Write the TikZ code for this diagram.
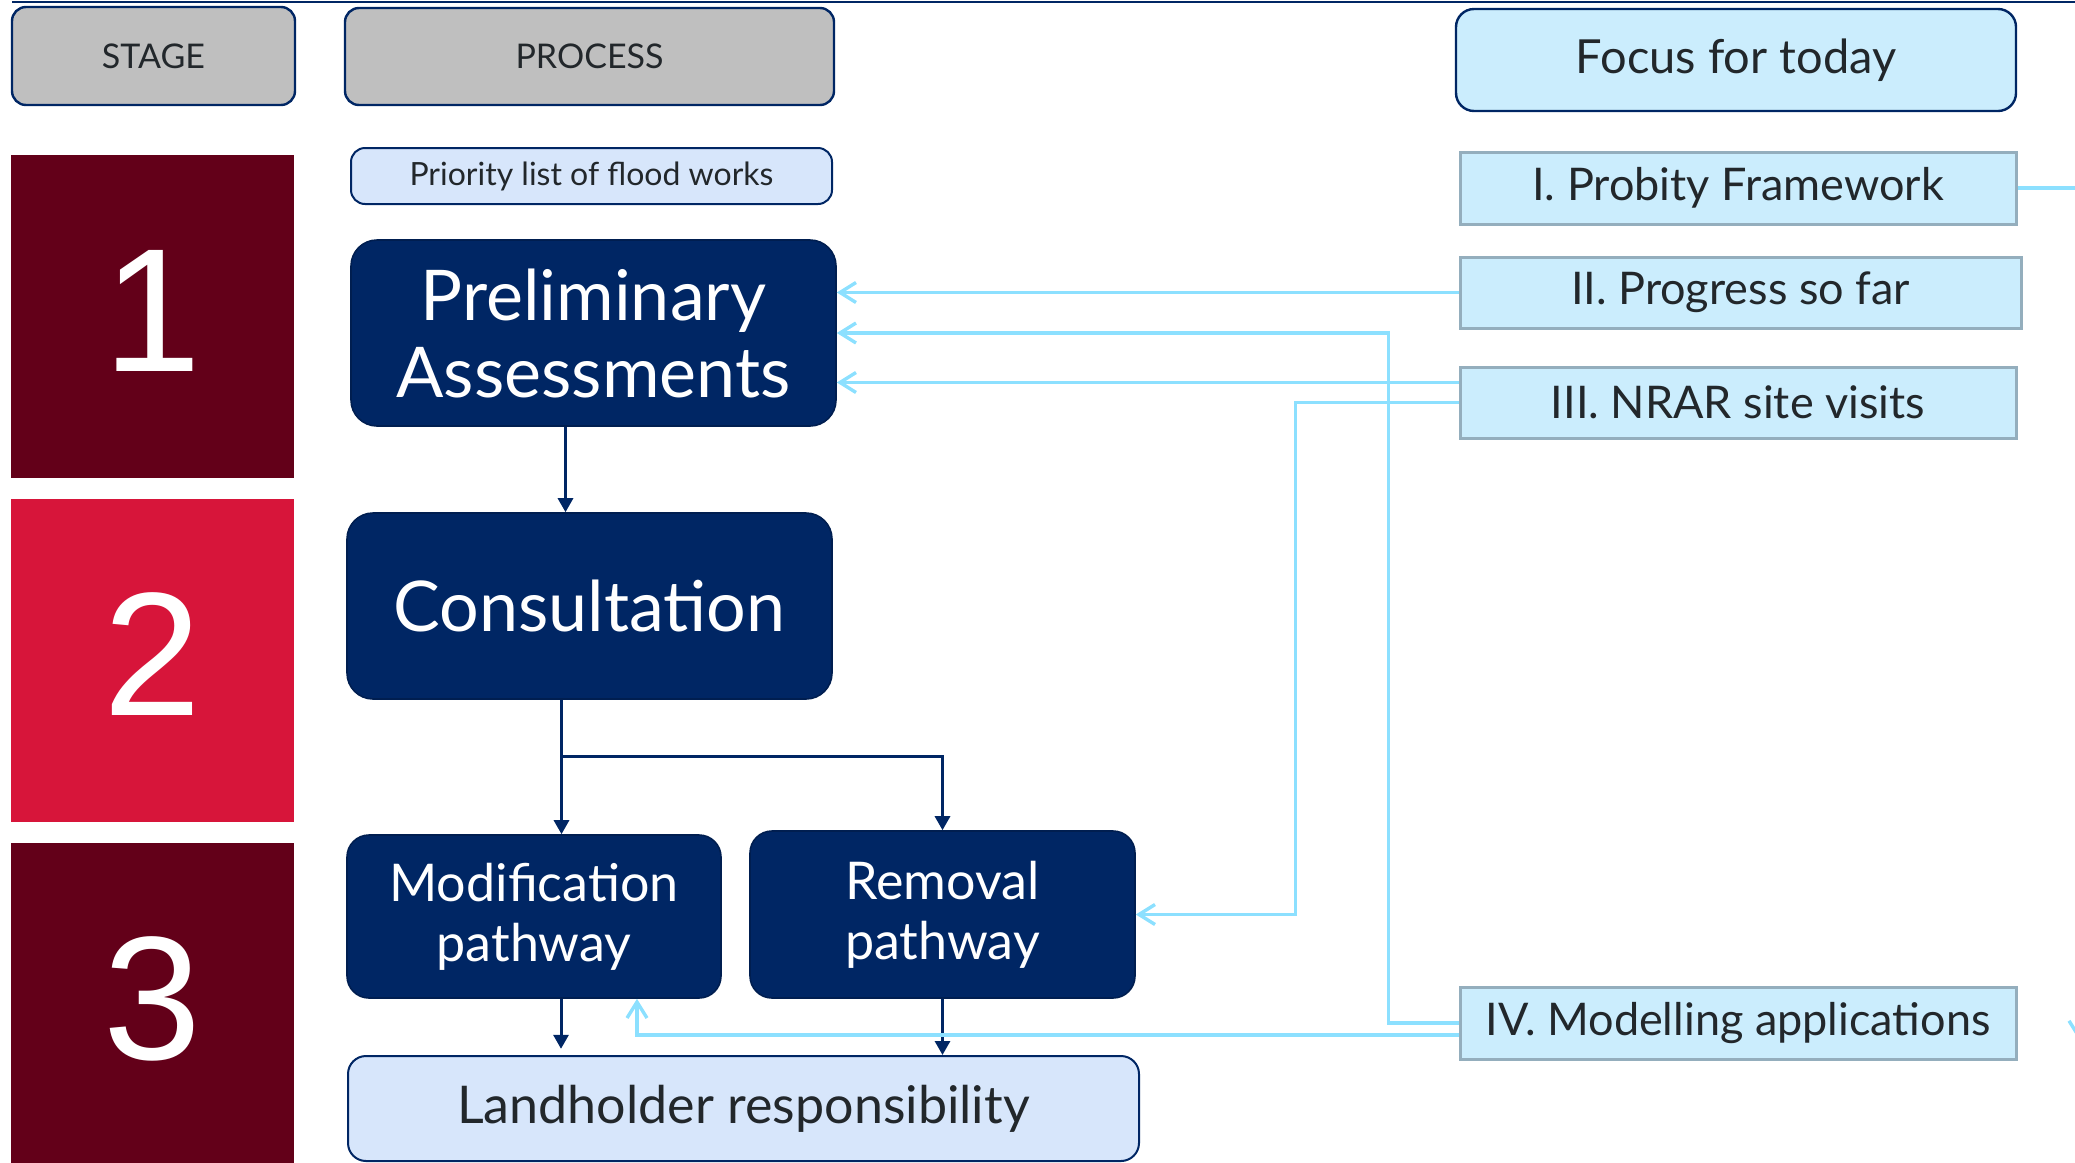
\documentclass[tikz,border=0pt]{standalone}
\usepackage{fontspec}
\setmainfont{Lato}
\newfontfamily\digitfont{Liberation Sans}
\usetikzlibrary{arrows.meta}

\definecolor{stagedark}{HTML}{630019}
\definecolor{stagered}{HTML}{D7153A}
\definecolor{navyfill}{HTML}{002664}
\definecolor{headgrey}{HTML}{BFBFBF}
\definecolor{focusblue}{HTML}{CBEDFD}
\definecolor{paleblue}{HTML}{D7E6FB}
\definecolor{feedblue}{HTML}{8CE0FF}
\definecolor{itemedge}{HTML}{94AEBD}
\definecolor{inkdark}{HTML}{22272B}

\tikzset{
  headbox/.style={draw=navyfill, line width=1.2pt, fill=headgrey, rounded corners=7pt, text=inkdark, inner sep=0pt},
  stagebox/.style={inner sep=0pt, text=white, font=\digitfont\fontsize{88}{90}\selectfont},
  navybox/.style={draw=navyfill!80!black, line width=0.8pt, fill=navyfill, rounded corners=13pt, text=white, align=center, inner sep=0pt},
  palebox/.style={draw=navyfill, line width=1pt, fill=paleblue, rounded corners=7pt, text=inkdark, inner sep=0pt},
  itembox/.style={draw=itemedge, line width=1.5pt, fill=focusblue, text=inkdark, inner sep=0pt, font=\fontsize{22.5}{24}\selectfont},
  flow/.style={draw=navyfill, line width=1.5pt, -{Triangle[length=7pt,width=7.5pt]}},
  feed/.style={draw=feedblue, line width=1.7pt, -{Straight Barb[length=8pt,width=10pt]}},
  feedline/.style={draw=feedblue, line width=1.7pt}
}

\begin{document}
\begin{tikzpicture}[x=0.5pt,y=0.5pt,yscale=-1,xscale=1]
\useasboundingbox (0,0) rectangle (2075,1162);

%Straight Lines top rule
\draw [navyfill, line width=0.8pt] (12,2) -- (2075,2);

% Headers
\node [headbox, minimum width=141.5pt, minimum height=49pt, font=\fontsize{17}{19}\selectfont] (stagehdr) at (153.5,56) {STAGE};
\node [headbox, minimum width=244.5pt, minimum height=48.5pt, font=\fontsize{17}{19}\selectfont] (processhdr) at (589.5,56.5) {PROCESS};
\node [headbox, fill=focusblue, rounded corners=9pt, minimum width=280pt, minimum height=51pt, font=\fontsize{23.5}{26}\selectfont] (focus) at (1736,60) {Focus for today};

% Stage blocks
\node [stagebox, fill=stagedark, minimum width=141.5pt, minimum height=161.5pt] (stage1) at (152.5,316.5) {\raisebox{6pt}{1}};
\node [stagebox, fill=stagered, minimum width=141.5pt, minimum height=161.5pt] (stage2) at (152.5,660.5) {\raisebox{6pt}{2}};
\node [stagebox, fill=stagedark, minimum width=141.5pt, minimum height=161.5pt] (stage3) at (152.5,1004.5) {\raisebox{6pt}{3}};

% Process boxes
\node [palebox, minimum width=240.5pt, minimum height=28pt, font=\fontsize{16}{18}\selectfont] (priority) at (591.5,176) {Priority list of flood works};
\node [navybox, minimum width=242.5pt, minimum height=93pt, font=\fontsize{35}{38.5}\selectfont] (prelim) at (593.5,333) {Preliminary\\Assessments};
\node [navybox, minimum width=242.5pt, minimum height=93pt, font=\fontsize{35}{38.5}\selectfont] (consult) at (589.5,606) {Consultation};
\node [navybox, rounded corners=11pt, minimum width=187pt, minimum height=81.5pt, font=\fontsize{26}{30}\selectfont] (modif) at (534,916.5) {Modification\\pathway};
\node [navybox, rounded corners=11pt, minimum width=192.5pt, minimum height=83.5pt, font=\fontsize{26}{30}\selectfont] (removal) at (942.5,914.5) {Removal\\pathway};
\node [palebox, rounded corners=9pt, minimum width=395.5pt, minimum height=52.5pt, font=\fontsize{26}{30}\selectfont] (landholder) at (743.5,1108.5) {Landholder responsibility};

% Focus items
\node [itembox, minimum width=278pt, minimum height=36pt] (probity) at (1738,188) {I. Probity Framework};
\node [itembox, minimum width=280.5pt, minimum height=35.5pt] (progress) at (1740.5,292.5) {II. Progress so far};
\node [itembox, minimum width=278pt, minimum height=35.5pt] (nrar) at (1738,402.5) {III. NRAR site visits};
\node [itembox, minimum width=278pt, minimum height=36pt] (modelling) at (1738,1023) {IV. Modelling applications};

\coordinate (offright) at (2090,188);
\coordinate (offtop) at (2079,990);
\coordinate (offtip) at (2079,1040);

% Process flow
\draw [flow] ([xshift=-14pt]prelim.south) -- ([xshift=-14pt]prelim.south |- consult.north);
\draw [flow] ([xshift=-14pt]consult.south) -- ([xshift=-14pt]consult.south |- modif.north);
\draw [flow] ([xshift=-14pt]consult.south) ++(0,57) -| (removal.north);
\draw [flow] ([xshift=13.5pt]modif.south) -- ++(0,50);
\draw [flow] (removal.south) -- (removal.south |- landholder.north);

% Feedback lines
\draw [feedline] (probity.east) -- (offright);
\draw [feed] (offtop) -- (offtip);
\draw [feed] (progress.west) -- (progress.west -| prelim.east);
\draw [feed] ([yshift=-10pt]nrar.west) -- ([yshift=-10pt]nrar.west -| prelim.east);
\draw [feed] (nrar.west) -- ++(-163,0) |- (removal.east);
\draw [feed] (modelling.west) -- ++(-70,0) |- (prelim.east);
\draw [feed] ([yshift=6pt]modelling.west) -| ([xshift=51.5pt]modif.south);

\end{tikzpicture}
\end{document}
